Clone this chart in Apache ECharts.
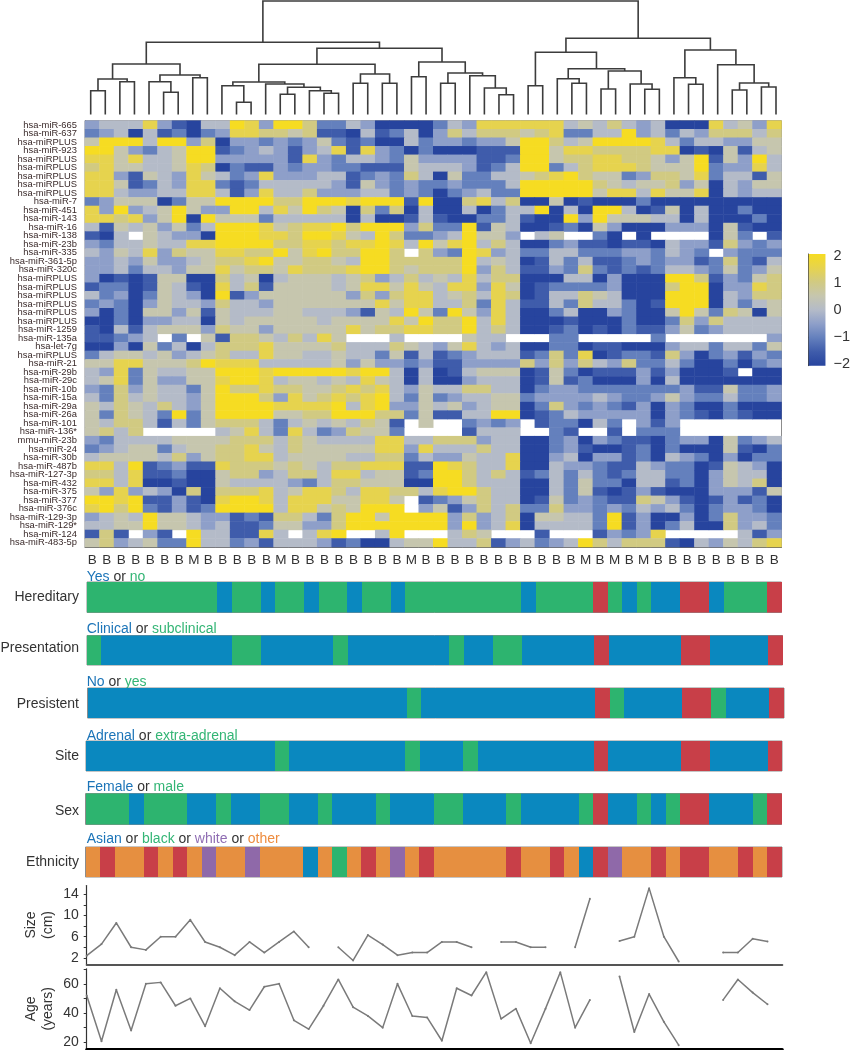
<!DOCTYPE html>
<html>
<head>
<meta charset="utf-8">
<style>html,body{margin:0;padding:0;background:#fff}#c{width:853px;height:1050px}</style>
<script src="https://cdn.jsdelivr.net/npm/echarts@6/dist/echarts.min.js"></script>
</head>
<body>
<div id="c"></div>
<script>
const miRNAs = ["hsa-miR-665","hsa-miR-637","hsa-miRPLUS","hsa-miR-923","hsa-miRPLUS","hsa-miRPLUS","hsa-miRPLUS","hsa-miRPLUS","hsa-miRPLUS","hsa-miR-7","hsa-miR-451","hsa-miR-143","hsa-miR-16","hsa-miR-138","hsa-miR-23b","hsa-miR-335","hsa-miR-361-5p","hsa-miR-320c","hsa-miRPLUS","hsa-miRPLUS","hsa-miRPLUS","hsa-miRPLUS","hsa-miRPLUS","hsa-miRPLUS","hsa-miR-1259","hsa-miR-135a","hsa-let-7g","hsa-miRPLUS","hsa-miR-21","hsa-miR-29b","hsa-miR-29c","hsa-miR-10b","hsa-miR-15a","hsa-miR-29a","hsa-miR-26a","hsa-miR-101","hsa-miR-136*","mmu-miR-23b","hsa-miR-24","hsa-miR-30b","hsa-miR-487b","hsa-miR-127-3p","hsa-miR-432","hsa-miR-375","hsa-miR-377","hsa-miR-376c","hsa-miR-129-3p","hsa-miR-129*","hsa-miR-124","hsa-miR-483-5p"];
const sampleTypes = "BBBBBBBMBBBBBMBBBBBBBBMBBBBBBBBBBBMBMBMBBBBBBBBB".slice(0,48).split("");
// expression levels per cell: digit d means (d-4)/2 in the -2..2 scale, "_" is missing
const heatLeft = [
"344473104487388622430000","234041202377665611041240","588848836033232352120042","885324588123431347173202",
"775744588333331732443253","675544576021132332211154","773154375423733344123264","775124377212444443153232",
"774334477413744633344232","235550255888866888788818","738345853388475865062604","776735808555244444040014",
"415453524888756778688836","104_54330888776887548622","324454477888866776778748","43547365577668578668 86_6",
"334353345667855665488666","334244355756657666788656","301015500645045554563464","122015410746155554577575",
"423025430813555555363677","232035443644355555557577","302055351544455444315485","002033440545555545555758",
"104145553655355555756677","11234_2_5166546475___4__","003052404666755556444654","245545345644755445442514",
"557755568777444445353323","437254455888788888788404","457253355788745545475404","326354425866766556767435",
"426454435888637567678425","546546435888877778478335","526542825888855668886625","54664142566642454546 51_5",
"5646_____4574274236552__","324444555566646544447744","234552455667546555557737","455554635667745555446624",
"774812311766656546677711","664711200566346647745512","774700100544443246655500","537343060666745776477664",
"88781131078874777557 75_1","78682131288884775658 88_3","345485543312166426885888","445585543411255336888888",
"161_31_8441174_478__48__","563452284423144431200455"
];
const heatRight = [
"243777777454643400074537","36466656722448342436 6646","332335886458888742443355","000111885776666770105145",
"333112885667766535815384","443124882467776555823374","052244567865523665724415","232224888886545563504355",
"023422888885774755704344","006746005010002000000000","004024480408840150400200","100224100838555440400020",
"228154001205300033305100","348553_45__20_0____052_1","578464002311011043316323","328734224422233243 2_3222",
"668454014241123233126214","668364113262121244325235","547466000440300088613256","477375012222300068803376",
"456476014465400088804366","446274114264420188804245","285374002400320058526505","668474000100020026364444",
"668464001201021135234444","__544___22_____2_______3","357434002201100034424425","123444126270122163023132",
"113333636364362242002023","0145550152011131300 01_00","003444015120003040000000","446644023322222223115223",
"234455233334322353224223","453455026323213032002000","114488012433333032102100","__2323_122042_313_______",
"__1444__21__1_222_______","666344002303211023305234","444644002310012020005102","335447003403312043203022",
"876447004332114322015430","886464124242124422035440","886444004252204412035460","788644004251013100033315",
"235644015232116531013120","513646226332324342023320","836346055442813003026332","838347044442813024006342",
"_465___1___13237_____413","844613423486466610435467"
];
// annotation tracks, one letter per sample: B blue, G green, R red, O orange, P purple
const hereditary  = "GGGGGGGGG B GG B GG B GG B GG B GGGGGGGG B GGGG R G B G BB RR B GGG R";
const presentation= "G BBBBBBBBB GG BBBBB G BBBBBBB G BB GG BBBBB R BBBBB RR BBBB R";
const presistent  = "BBBBBBBBBBBBBBBBBBBBBB G BBBBBBBBBBBB R G BBBB RR G BBB R";
const site        = "BBBBBBBBBBBBB G BBBBBBBB G BBB G BBBBBBBB R BBBBB RR BBBB R";
const sex         = "GGG B GGG BB G BB GG BB G BBB G BBB GG BBB G BBBB G R BB G B G RR BBB G R";
const ethnicity   = "O R OO R O R O P OO P OOO B O G O R O P O R OOOOO R OO R O B R P OO R O RR OO R O R";
const sizeCm = [2.4,4.6,8.6,4,3.5,6,6,9.2,5,4,2.5,5,3,5,7,4,null,4,1.5,6.3,4.5,2.5,3,3,5,5,4,null,5,5,4,4,null,4,13.2,null,5.2,6,15.2,6,1.3,null,null,3,3,5.6,5.1];
const ageYears = [52,20.7,56,28,60,61,45,50,31,57,48,42,58,60,35,29,45,63,44,38,30,60,38,37,21,57,52,68,36,43,19.3,43,68,30,49,null,65,27,53,34,18,null,null,49,63,54,46];
const sizeTicks = [2,4,6,8,10,12,14], sizeLabels = [2,6,10,14];
const ageTicks = [20,30,40,50,60,70], ageLabels = [20,40,60];
const scaleTicks = [-2,-1,0,1,2];
// dendrogram: [height, left, right], numbers are leaf positions
const tree = [113.5,
 [72.2,
  [50.5,[35.5,[23.8,0,1],[32.8,2,3]],[39.5,[32.8,4,[22.2,5,6]],[36.8,7,8]]],
  [66.2,
   [50.2,
    [32.5,[28.8,9,[12.2,10,11]],[30.5,12,[27.2,[20.2,13,14],[23.8,15,[21.2,16,17]]]]],
    [40.5,[31.2,18,19],[31.2,20,21]]],
   [52.5,[37.8,22,23],[41.5,[31.2,24,25],[38.8,26,[26.5,27,[19.8,28,29]]]]]]],
 [76.2,
  [62.2,[28.8,30,31],[45.8,[35.8,32,[31.2,33,34]],[43.5,[25.5,35,36],[30.5,37,[25.2,38,39]]]]],
  [64.5,[36.8,40,[30.2,41,42]],[49.8,43,[31.5,[24.5,44,45],[27.5,46,47]]]]]];

const colorStops = [[-2,'#27449e'],[-1.5,'#3f5cab'],[-1,'#6480bd'],[-0.5,'#8e9fc9'],[0,'#b4bbc8'],[0.5,'#c6c6ae'],[1,'#d1ca82'],[1.5,'#e6d34e'],[2,'#f6dc22']];
const trackColors = {B:'#0a88bf',G:'#2db46f',R:'#c83f48',O:'#e68f40',P:'#8f69a9'};

const cols = sampleTypes.map((_,i)=>String(i));
const heatData = [];
miRNAs.forEach((_,r)=>{
  (heatLeft[r]+heatRight[r]).replace(/ /g,'').split('').forEach((ch,c)=>{
    if(ch!=='_') heatData.push([c,r,(Number(ch)-4)/2]);
  });
});
const links=[];
function walk(n){
  if(typeof n==='number') return [n,0];
  const a=walk(n[1]), b=walk(n[2]);
  links.push([a[0],a[1],b[0],b[1],n[0]]);
  return [(a[0]+b[0])/2,n[0]];
}
walk(tree);

const grids=[], xAxes=[], yAxes=[], series=[], graphics=[];
function addGrid(g,x,y){grids.push(g);x.gridIndex=grids.length-1;y.gridIndex=grids.length-1;xAxes.push(x);yAxes.push(y);return grids.length-1;}
const FONT='"Liberation Sans", Arial, sans-serif';

// dendrogram
let gi=addGrid({left:90.7,top:0,width:685.3,height:114.5},{type:'value',min:0,max:47,show:false},{type:'value',min:0,max:114.5,show:false});
series.push({type:'custom',xAxisIndex:gi,yAxisIndex:gi,clip:false,silent:true,data:links,
 renderItem:(p,api)=>{
  const a=api.coord([api.value(0),api.value(1)]),b=api.coord([api.value(0),api.value(4)]),
        c=api.coord([api.value(2),api.value(4)]),d=api.coord([api.value(2),api.value(3)]);
  return {type:'polyline',shape:{points:[a,b,c,d]},style:{stroke:'#3c3c3c',fill:null,lineWidth:1.6}};
 }});

// heatmap
gi=addGrid({left:85,top:120.7,width:696.5,height:426.3,show:true,borderColor:'#8c8c8c',borderWidth:1,backgroundColor:'#fff'},
 {type:'category',data:cols,splitArea:{show:false},axisTick:{show:false},axisLine:{show:true,lineStyle:{color:'#666',width:1}},
  axisLabel:{interval:0,formatter:(v)=>sampleTypes[+v],fontFamily:FONT,fontSize:13.5,color:'#333',margin:6.5}},
 {type:'category',inverse:true,data:miRNAs.map((m,i)=>i+':'+m),splitArea:{show:false},axisTick:{show:false},axisLine:{show:true,lineStyle:{color:'#666',width:1}},
  axisLabel:{interval:0,formatter:(v)=>v.slice(v.indexOf(':')+1),fontFamily:FONT,fontSize:9.4,color:'#3a2a2a',margin:8}});
const heatIndex=series.length;
series.push({type:'heatmap',xAxisIndex:gi,yAxisIndex:gi,data:heatData,silent:true,progressive:0,itemStyle:{borderWidth:0}});

// annotation tracks
const tracks=[
 [hereditary,'Hereditary',87,582,30.5,694.5,597,576.7,[['Yes','b'],[' or ','k'],['no','g']]],
 [presentation,'Presentation',87,635.5,29.5,695.5,648,629.5,[['Clinical','b'],[' or ','k'],['subclinical','g']]],
 [presistent,'Presistent',87.5,688,30,696.5,704,682.5,[['No','b'],[' or ','k'],['yes','g']]],
 [site,'Site',86,741,30,696,755.7,736,[['Adrenal','b'],[' or ','k'],['extra-adrenal','g']]],
 [sex,'Sex',85.5,793.5,31,696,810.7,787,[['Female','b'],[' or ','k'],['male','g']]],
 [ethnicity,'Ethnicity',85.5,847,30,696.5,862,839.5,[['Asian','b'],[' or ','k'],['black','g'],[' or ','k'],['white','p'],[' or ','k'],['other','o']]]
];
const rich={b:{fill:'#1b74b8',fontSize:14,fontFamily:FONT},g:{fill:'#33b575',fontSize:14,fontFamily:FONT},p:{fill:'#8f6db3',fontSize:14,fontFamily:FONT},o:{fill:'#ee8c3e',fontSize:14,fontFamily:FONT},k:{fill:'#333',fontSize:14,fontFamily:FONT}};
tracks.forEach(t=>{
 const codes=t[0].replace(/ /g,'').split('');
 const g=addGrid({left:t[2],top:t[3],width:t[5],height:t[4],show:true,borderColor:'#8c8c8c',borderWidth:1},
  {type:'category',data:cols,show:false},{type:'value',min:0,max:1,show:false});
 series.push({type:'custom',xAxisIndex:g,yAxisIndex:g,silent:true,z:3,
  encode:{x:0,y:1},
  data:codes.map((c,i)=>[i,1,c]),
  renderItem:(p,api)=>{
   const i=api.value(0), top=api.coord([i,1]), bottom=api.coord([i,0]), w=api.size([1,0])[0];
   const x0=Math.round(top[0]-w/2), x1=Math.round(top[0]+w/2);
   return {type:'rect',shape:{x:x0,y:top[1],width:x1-x0,height:bottom[1]-top[1]},style:{fill:trackColors[codes[p.dataIndex]]}};
  }});
 graphics.push({type:'text',x:79,y:t[6],style:{text:t[1],fill:'#333',fontSize:14,fontFamily:FONT,textAlign:'right',textVerticalAlign:'middle'}});
 graphics.push({type:'text',x:86.7,y:t[7],z:1,style:{text:t[8].map(s=>'{'+s[1]+'|'+s[0]+'}').join(''),rich:rich,textVerticalAlign:'middle'}});
});

// size and age lines
function lineChart(top,h,min,max,name,vals,ticks,labels,axisCol,axisW,nameGap){
 const g=addGrid({left:86.7,top:top,width:695.6,height:h},
  {type:'category',boundaryGap:false,data:cols,axisTick:{show:false},axisLabel:{show:false},axisLine:{show:true,lineStyle:{color:axisCol,width:axisW}}},
  {type:'value',min:min,max:max,splitLine:{show:false},
   name:name,nameLocation:'middle',nameRotate:90,nameGap:nameGap,nameMoveOverlap:false,nameTextStyle:{fontFamily:FONT,fontSize:14,color:'#333',lineHeight:17},
   axisLine:{show:true,lineStyle:{color:'#333',width:1.2}},
   axisTick:{show:true,length:3,inside:false,customValues:ticks,lineStyle:{color:'#333'}},
   axisLabel:{customValues:labels,fontFamily:FONT,fontSize:14,color:'#333',margin:8}});
 series.push({type:'line',xAxisIndex:g,yAxisIndex:g,data:vals,connectNulls:false,silent:true,symbol:'circle',symbolSize:2,showSymbol:true,
  lineStyle:{color:'#7a7a7a',width:1.5},itemStyle:{color:'#7a7a7a'}});
}
lineChart(885.5,79,0.73,15.7,'Size\n(cm)',sizeCm,sizeTicks,sizeLabels,'#555',2,30);
lineChart(968.8,80,15.5,70.3,'Age\n(years)',ageYears,ageTicks,ageLabels,'#000',3,30);

// colour scale
gi=addGrid({left:808.7,top:254,width:19.6,height:111.7},
 {type:'value',min:0,max:1,show:false},
 {type:'value',position:'right',min:-2.07,max:2.09,splitLine:{show:false},
  axisLine:{show:true,lineStyle:{color:'#444',width:1}},
  axisTick:{show:true,length:2,customValues:scaleTicks,lineStyle:{color:'#222',width:1.4}},
  axisLabel:{customValues:scaleTicks,formatter:v=>String(v).replace('-','\u2212'),fontFamily:FONT,fontSize:14.5,color:'#333',margin:8}});
series.push({type:'custom',xAxisIndex:gi,yAxisIndex:gi,silent:true,data:[[0,-2.07,1,2.09]],
 renderItem:(p,api)=>{
  const a=api.coord([api.value(0),api.value(3)]),b=api.coord([api.value(2),api.value(1)]);
  const lo=colorStops[0][0],hi=colorStops[colorStops.length-1][0];
  return {type:'rect',shape:{x:a[0],y:a[1],width:b[0]-a[0],height:b[1]-a[1]},
   style:{fill:{type:'linear',x:0,y:1,x2:0,y2:0,colorStops:colorStops.map(s=>({offset:(s[0]-lo)/(hi-lo),color:s[1]}))}}};
 }});

const chart=echarts.init(document.getElementById('c'),null,{renderer:'canvas'});
chart.setOption({animation:false,backgroundColor:'#fff',grid:grids,xAxis:xAxes,yAxis:yAxes,series:series,graphic:graphics,
 visualMap:{show:false,type:'piecewise',seriesIndex:heatIndex,dimension:2,
  pieces:colorStops.map(s=>({value:s[0],color:s[1]}))}});
</script>
</body>
</html>
